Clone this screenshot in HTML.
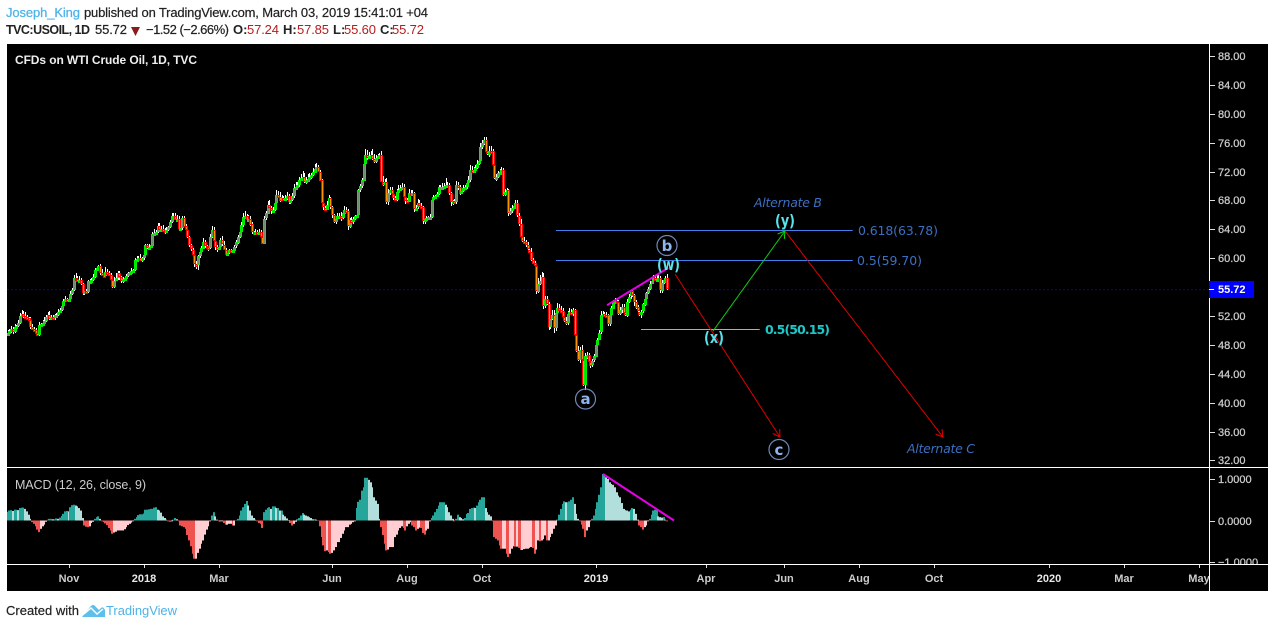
<!DOCTYPE html>
<html lang="en">
<head>
<meta charset="utf-8">
<title>USOIL chart</title>
<style>
html,body{margin:0;padding:0;background:#fff;width:1274px;height:628px;overflow:hidden}
svg{display:block;font-family:"Liberation Sans",sans-serif}
.d{font-family:"DejaVu Sans",sans-serif}
.h{stroke:#222;stroke-width:.2}
</style>
</head>
<body>
<svg id="root" width="1274" height="628" viewBox="0 0 1274 628" xmlns="http://www.w3.org/2000/svg">
<defs>
<clipPath id="plotClip"><rect x="7" y="44" width="1202" height="423"/></clipPath>
<clipPath id="macdClip"><rect x="7" y="468" width="1202" height="96"/></clipPath>
<clipPath id="macdAxisClip"><rect x="1210" y="468" width="58" height="96"/></clipPath>
<clipPath id="timeClip"><rect x="7" y="565" width="1202" height="26"/></clipPath>
</defs>

<text x="6" y="17" font-size="13" fill="#4fb3e8" stroke="#4fb3e8" stroke-width=".25" textLength="74">Joseph_King</text>
<text class="h" x="84" y="17" font-size="13" fill="#222" textLength="344">published on TradingView.com, March 03, 2019 15:41:01 +04</text>
<text x="6" y="34" font-size="12.5" font-weight="bold" fill="#222" textLength="84">TVC:USOIL, 1D</text>
<text class="h" x="95" y="34" font-size="13" fill="#222" textLength="32">55.72</text>
<polygon points="131,27 140,27 135.5,36" fill="#8b1a1a"/>
<text class="h" x="146" y="34" font-size="13" fill="#222" textLength="83">−1.52 (−2.66%)</text>
<text x="233" y="34" font-size="13" font-weight="bold" fill="#222">O:</text>
<text x="247" y="34" font-size="13" fill="#b71c1c" textLength="32">57.24</text>
<text x="283" y="34" font-size="13" font-weight="bold" fill="#222">H:</text>
<text x="297" y="34" font-size="13" fill="#b71c1c" textLength="32">57.85</text>
<text x="333" y="34" font-size="13" font-weight="bold" fill="#222">L:</text>
<text x="344" y="34" font-size="13" fill="#b71c1c" textLength="32">55.60</text>
<text x="380" y="34" font-size="13" font-weight="bold" fill="#222">C:</text>
<text x="392" y="34" font-size="13" fill="#b71c1c" textLength="32">55.72</text>

<rect x="7" y="44" width="1261" height="547" fill="#000"/>
<g id="plot" clip-path="url(#plotClip)"></g>
<g id="drawings"></g>
<g id="macd" clip-path="url(#macdClip)"></g>
<g id="macdDrawings"></g>

<rect x="7" y="467" width="1261" height="1" fill="#fff"/>
<rect x="7" y="564" width="1261" height="1" fill="#fff"/>
<rect x="1209" y="44" width="1" height="547" fill="#fff"/>
<g id="priceAxis"></g>
<g id="macdAxis" clip-path="url(#macdAxisClip)"></g>
<g id="timeAxis" clip-path="url(#timeClip)"></g>

<text x="15" y="64" font-size="12" font-weight="bold" fill="#eee" textLength="182">CFDs on WTI Crude Oil, 1D, TVC</text>
<text x="15" y="489" font-size="12.5" fill="#ccc" textLength="131">MACD (12, 26, close, 9)</text>

<rect x="1209" y="281" width="45" height="17" fill="#0000ff"/>
<rect x="1209" y="289" width="5" height="1" fill="#fff"/>
<text x="1218" y="293" font-size="11" font-weight="bold" fill="#fff">55.72</text>

<text class="d" x="858" y="235" font-size="12.5" fill="#3d6fc0" textLength="80">0.618(63.78)</text>
<text class="d" x="857" y="265" font-size="12.5" fill="#3d6fc0" textLength="65">0.5(59.70)</text>
<text class="d" x="765" y="334" font-size="12.5" font-weight="bold" fill="#1fc8c8" textLength="65">0.5(50.15)</text>
<text class="d" x="754" y="207" font-size="12.5" font-style="italic" fill="#3d6fc0" textLength="68">Alternate B</text>
<text class="d" x="907" y="453" font-size="12.5" font-style="italic" fill="#3d6fc0" textLength="68">Alternate C</text>

<circle cx="667" cy="245.5" r="10" fill="none" stroke="#6f88b8" stroke-width="1.2"/>
<text class="d" x="667" y="251" font-size="15" font-weight="bold" fill="#8fb4ee" text-anchor="middle">b</text>
<circle cx="585.5" cy="399" r="10" fill="none" stroke="#6f88b8" stroke-width="1.2"/>
<text class="d" x="585.5" y="404" font-size="15" font-weight="bold" fill="#8fb4ee" text-anchor="middle">a</text>
<circle cx="779" cy="449.5" r="10" fill="none" stroke="#6f88b8" stroke-width="1.2"/>
<text class="d" x="779" y="455" font-size="15" font-weight="bold" fill="#8fb4ee" text-anchor="middle">c</text>
<text class="d" x="657" y="270" font-size="16" font-weight="bold" fill="#58e4ea" textLength="23" lengthAdjust="spacingAndGlyphs">(w)</text>
<text class="d" x="704" y="343" font-size="16" font-weight="bold" fill="#58e4ea" textLength="20" lengthAdjust="spacingAndGlyphs">(x)</text>
<text class="d" x="775" y="226" font-size="16" font-weight="bold" fill="#58e4ea" textLength="20" lengthAdjust="spacingAndGlyphs">(y)</text>

<text class="h" x="6" y="615" font-size="13" fill="#222" textLength="73">Created with</text>
<path d="M82 617 L90 607 Q93 603 96 607 L99 610 L101 608 Q103 606 105 610 L105 617 Z M86 617" fill="#5cc0ea"/>
<path d="M84 614 L91 608 L97 614 L103 609" fill="none" stroke="#fff" stroke-width="1.4"/>
<text x="106" y="615" font-size="13" fill="#4fb3e8" textLength="71">TradingView</text>
</svg>
<script>
const closes = [49.6,49.9,50.2,49.8,50.5,50.6,51.0,52.0,52.3,52.0,51.9,51.7,51.5,50.5,50.2,50.1,49.6,49.4,50.8,50.9,
51.0,51.3,51.9,52.2,51.6,51.9,51.7,52.1,52.2,52.6,52.8,53.4,54.1,54.3,54.2,54.4,55.1,55.6,57.2,57.1,
56.9,57.0,56.4,55.1,55.4,55.3,56.8,56.9,57.0,57.4,58.4,58.6,58.9,58.0,57.7,57.6,58.1,58.0,57.7,57.0,
56.1,56.9,57.2,57.9,57.4,56.8,57.1,57.2,57.6,57.9,58.1,58.3,58.4,59.8,59.9,60.0,59.7,60.0,60.4,61.8,
61.5,61.6,61.8,63.4,63.5,63.6,64.4,63.9,64.1,63.9,63.6,63.9,64.3,65.0,65.8,65.9,65.3,65.5,64.1,64.2,
65.6,64.4,63.9,62.9,61.8,61.2,60.5,59.2,59.0,60.3,60.9,61.4,62.3,61.7,61.6,61.4,62.9,63.9,62.4,61.6,
61.3,61.5,62.5,61.9,61.2,60.5,60.7,61.1,60.9,61.1,61.6,62.2,63.0,63.7,64.6,65.7,65.8,65.3,65.5,64.7,
63.6,63.5,63.7,63.6,63.7,63.0,62.1,65.5,66.2,67.4,67.0,66.6,66.7,67.7,68.8,68.5,68.0,68.3,68.1,68.3,
68.6,67.8,68.0,68.6,69.7,69.9,70.1,70.8,71.1,71.3,70.6,70.9,71.0,71.3,71.5,71.9,72.4,72.7,72.0,70.8,
67.6,67.0,66.7,67.4,68.3,67.1,66.0,65.1,65.4,65.8,65.9,65.5,66.2,66.7,66.5,64.4,65.3,65.1,65.4,65.8,
66.0,69.4,70.0,70.8,73.1,74.3,73.9,74.2,74.3,73.8,73.4,73.9,74.1,74.3,70.6,70.5,70.6,67.8,69.0,69.4,
68.9,68.3,68.1,69.2,69.5,69.7,69.9,68.5,68.0,67.8,69.0,68.9,69.0,66.8,67.0,67.6,67.3,67.1,65.1,65.4,
65.6,65.7,65.7,68.1,68.5,68.6,68.9,69.8,69.8,69.9,70.0,70.1,70.1,69.0,67.8,67.9,67.7,70.1,69.9,69.0,
69.3,69.7,69.9,70.4,70.8,72.2,72.1,72.2,72.5,73.0,73.4,75.4,75.9,76.4,74.8,74.4,74.9,74.8,72.9,71.1,
71.3,71.8,72.0,72.2,68.8,69.2,69.4,66.2,66.5,66.9,67.3,67.6,65.9,64.8,63.0,62.4,62.2,61.8,61.2,60.9,
59.8,59.3,58.9,55.4,56.5,56.9,57.4,53.4,54.4,53.7,50.5,51.6,52.1,50.3,52.4,53.1,52.9,52.7,51.9,51.3,
51.0,52.3,52.6,52.2,52.8,49.4,47.2,45.9,47.3,45.9,42.5,46.5,46.6,45.7,45.2,45.8,46.4,48.0,48.7,49.7,
52.1,52.3,52.2,52.1,50.8,52.1,53.1,54.0,54.1,54.0,52.4,52.9,53.3,52.5,52.1,54.0,54.7,55.4,54.9,54.0,
53.2,52.6,52.5,52.6,53.6,54.4,55.2,55.8,56.5,56.9,57.2,57.0,57.1,57.2,55.5,56.6,57.0,57.24,55.72];

/* wick lengths, in units of wickUnit dollars */
const wickUnit = 0.6;
const upperWicks = [.8,.6,.7,.5,.6,.3,.8,.7,.9,.6,1.0,.4,.3,.7,.6,.5,.4,.3,.6,.3,
.7,.9,.5,.6,.8,.4,.5,.3,.4,.7,.6,.8,.5,.7,.4,1.0,.6,.5,.9,1.2,
.8,.9,.5,.3,.4,.6,.3,.4,.5,.7,.4,.3,.3,.6,.9,.5,1.1,.6,.4,.5,
.4,.8,1.2,.5,.6,.3,.6,.4,.3,.4,.3,.5,.3,.4,.7,.5,.9,.4,.6,.3,
.4,.6,.2,.3,1.0,.6,.8,.7,.5,.9,.4,.6,.3,.4,.8,.6,.5,.9,.6,.8,
.5,.3,.6,.3,.4,.2,.3,.4,.8,.3,.5,.4,.9,.4,.3,.2,.7,1.0,.6,.5,
.3,.8,.6,.9,.7,.3,.5,.2,.4,.3,.5,.6,.4,.6,.8,1.0,1.2,.5,.7,.6,
.5,.4,.6,.4,.5,.3,.3,.5,.6,.9,1.0,.5,.6,.9,1.0,.8,1.1,.7,.6,.8,
.9,.6,.8,.7,1.0,1.1,.8,.7,.9,1.2,.9,.6,1.0,.8,.5,.9,1.0,.7,.3,.3,
.3,.5,.4,.8,.7,.4,.3,.3,.5,.7,.6,.8,.7,.9,.6,.5,.4,.6,.5,.4,
.3,.4,.5,.6,1.0,1.3,1.1,.8,.9,1.3,1.0,.6,.5,.4,.9,1.3,.6,.8,1.0,.8,
.7,.6,.5,.7,1.0,.8,.9,.7,.5,.6,.9,.8,.7,.4,.6,1.0,.8,.5,.3,.4,
.3,.3,.6,.3,.4,.3,.4,.5,.6,.9,.7,1.6,.7,.5,.4,.3,.5,1.1,.8,.5,
.6,.7,.5,.6,1.0,1.2,.9,.8,.7,1.0,.6,.9,.8,.6,.7,.9,1.0,1.1,.6,.5,
.6,.5,.5,.8,.4,.6,.5,.3,.7,.9,.5,.7,.8,.7,1.0,.8,.9,.6,.7,1.0,
.8,.4,.5,.8,1.2,1.3,1.2,.9,.7,.6,.5,1.0,1.2,1.3,.8,1.2,.9,.7,.6,.8,
1.0,.7,.9,.6,.5,.3,.6,1.0,.8,1.2,.5,.7,.6,.5,.4,.4,.5,.6,.4,.5,
.9,.6,.4,.5,.3,.4,.5,.3,.7,.4,.4,.6,.5,.6,.3,.5,.6,.4,.5,.3,
.4,.5,.3,.4,.3,.4,.3,.4,.6,.5,.8,.6,.9,.7,.5,.7,.5,.6,1.0];

const lowerWicks = [.3,.5,.3,.4,.2,.3,.2,.2,.3,.4,.2,.3,.2,.5,.3,.2,.3,.1,.2,.3,
.2,.3,.2,.4,.2,.3,.2,.5,.2,.2,.3,.2,.2,.3,.4,.2,.3,.2,.2,.3,
.3,.2,.2,.3,.2,.2,.3,.4,.2,.3,.2,.3,.2,.4,.3,.5,.3,.4,.2,.5,
.4,.3,.2,.3,.6,.2,.3,.2,.2,.3,.2,.2,.3,.2,.3,.2,.3,.2,.3,.2,
.2,.3,.2,.2,.3,.2,.2,.3,.5,.3,.4,.2,.3,.2,.2,.3,.2,.4,.3,.2,
.3,.2,.3,.2,.2,.3,.2,.7,.8,.9,.3,.2,.2,.5,.3,.6,.2,.2,.3,.8,
.9,.3,.2,.3,.2,.2,.3,.2,.3,.2,.3,.2,.3,.2,.2,.3,.2,.3,.2,.3,
.4,.2,.3,.2,.3,.2,.1,.2,.3,.2,.3,.6,.2,.3,.2,.4,.3,.2,.3,.3,
.4,.3,.5,.2,.3,.2,.6,.4,.2,.3,.2,.5,.3,.4,.6,.2,.3,.2,.2,.3,
.2,.5,.3,.2,.3,.4,.6,.3,.7,.5,.4,.6,.2,.3,.2,.9,.4,.3,.5,.2,
.3,.2,.4,.3,.2,.3,.5,.4,.6,.3,.5,.4,.2,.3,.2,.8,.3,.5,.6,.3,
.4,.5,.2,.3,.4,.2,.3,.4,.8,.3,.2,.3,.4,.5,.3,.2,.4,.3,.6,.5,
.3,.2,.3,.2,.3,.4,.2,.3,.2,.3,.2,.3,.4,.5,.8,.7,.4,.3,.8,.4,
.3,.2,.3,.4,.2,.3,.2,.3,.2,.3,.2,.3,.5,.3,.4,.3,.6,.4,.5,.3,
.6,.3,.4,.2,.5,.3,.2,.5,.3,.2,.3,.4,.3,.4,.2,.3,.2,.3,.2,.2,
.3,.2,.3,.5,.4,.3,.2,.8,.4,.3,.6,.4,.3,1.0,.5,.3,.4,.4,.5,.3,
.4,.3,.5,.2,.3,.3,.4,.3,.5,.2,.3,1.2,.8,1.1,.6,.4,.3,.3,.2,.2,
.3,.4,.4,.3,.2,.3,.3,.2,.3,.4,.5,.3,.8,.4,.3,.4,.3,.4,.5,1.0,
.3,.5,.9,1.2,.4,.3,.2,.3,.2,.2,.3,.2,.4,.3,.6,.5,.3,.2,.2];

const macdHist = [.21,.24,.25,.23,.26,.26,.25,.30,.31,.31,.28,.22,.14,.04,-.04,-.08,-.14,-.22,-.28,-.20,
-.14,-.10,-.03,.02,.04,.04,.03,.03,.05,.04,.07,.11,.16,.22,.23,.22,.32,.37,.38,.36,
.34,.30,.24,.06,-.12,-.15,-.16,-.14,-.06,-.03,.04,.08,.10,.04,-.02,-.04,-.07,-.11,-.18,-.24,
-.32,-.29,-.27,-.24,-.24,-.24,-.24,-.21,-.16,-.11,-.08,-.05,-.02,.04,.08,.13,.15,.15,.17,.26,
.26,.27,.28,.28,.31,.32,.26,.24,.19,.10,.06,.02,-.02,-.03,-.02,.02,.06,.03,-.02,-.12,
-.14,-.16,-.20,-.35,-.48,-.62,-.80,-.92,-.92,-.78,-.68,-.56,-.48,-.34,-.22,-.14,-.02,.12,.20,.10,
.02,-.02,-.02,-.02,-.06,-.10,-.10,-.08,-.08,-.12,-.12,.01,.04,.12,.24,.32,.40,.47,.36,.24,
.12,.06,.02,-.02,-.06,-.08,-.18,.20,.26,.30,.32,.28,.34,.34,.30,.30,.24,.24,.14,.10,
.05,.01,-.06,-.12,-.08,-.03,.03,.06,.12,.18,.14,.12,.10,.08,.06,.03,.03,.02,-.01,-.14,
-.40,-.60,-.74,-.72,-.76,-.80,-.78,-.72,-.64,-.52,-.52,-.42,-.32,-.24,-.16,-.16,-.10,-.08,-.04,-.02,
.30,.45,.50,.72,.80,1.03,1.03,.98,.92,.80,.56,.48,.40,.04,-.16,-.35,-.56,-.72,-.70,-.64,
-.64,-.64,-.40,-.34,-.24,-.18,-.14,-.18,-.24,-.14,-.08,-.04,-.12,-.16,-.24,-.20,-.17,-.18,-.30,-.34,
-.24,-.20,-.02,.06,.12,.20,.28,.36,.44,.44,.44,.38,.32,.20,.12,.04,-.02,.04,.14,.08,
.06,.03,.06,.16,.18,.28,.30,.31,.30,.36,.44,.50,.56,.56,.30,.20,.14,.10,-.02,-.40,
-.44,-.48,-.60,-.68,-.68,-.68,-.80,-.88,-.80,-.68,-.62,-.63,-.63,-.66,-.71,-.71,-.69,-.68,-.68,-.66,
-.64,-.66,-.80,-.70,-.48,-.50,-.48,-.45,-.36,-.48,-.48,-.40,-.32,-.20,-.12,.02,.14,.28,.40,.46,
.44,.44,.46,.50,.56,.40,.16,.04,-.02,-.10,-.20,-.40,-.24,-.16,-.02,.04,.12,.28,.44,.62,
.80,1.12,1.12,1.04,1.00,.92,.88,.86,.80,.68,.60,.56,.42,.28,.25,.24,.22,.26,.30,.28,
.16,.02,-.12,-.16,-.22,-.16,-.12,-.02,.04,.14,.24,.26,.26,.10,.08,.07,.08,.02,-.02];

const priceTicks = [88,84,80,76,72,68,64,60,52,48,44,40,36,32];
const macdTicks = [1,0,-1];
const timeLabels = ["Nov","2018","Mar","Jun","Aug","Oct","2019","Apr","Jun","Aug","Oct","2020","Mar","May"];
const timeBars = [35,78,121,186,229,272,337,400,445,488,531,597,640,683];
const boldTimeLabels = ["2018","2019","2020"];
const lastClose = 55.72;
const fibLevels = [63.78,59.70];
const fibXLevel = 50.15;

const NS = "http://www.w3.org/2000/svg";
function xAt(i){ return 7.6 + 1.745 * i; }
function yAt(p){ return 56 + (88 - p) * 7.223; }
function yMacd(v){ return 520.5 - v * 41.5; }
function make(tag, attrs){
  const el = document.createElementNS(NS, tag);
  for (const k in attrs) el.setAttribute(k, attrs[k]);
  return el;
}
const plot = document.getElementById("plot");
const drawings = document.getElementById("drawings");
const macd = document.getElementById("macd");
const macdDrawings = document.getElementById("macdDrawings");
const priceAxis = document.getElementById("priceAxis");
const macdAxis = document.getElementById("macdAxis");
const timeAxis = document.getElementById("timeAxis");

const lastLine = make("line", {x1:7, x2:1209, y1:yAt(lastClose)+0.5, y2:yAt(lastClose)+0.5, stroke:"#0000c8", "stroke-width":1, "stroke-dasharray":"2 2"});


plot.appendChild(lastLine);

closes.forEach(function(c, i){
  const o = i ? closes[i-1] : c;
  const top = Math.max(o, c), bot = Math.min(o, c);
  const hi = top + upperWicks[i] * wickUnit, lo = bot - lowerWicks[i] * wickUnit;
  const x = Math.round(xAt(i));
  const wick = make("rect", {x:x, y:Math.round(yAt(hi)), width:1, height:Math.max(1, Math.round(yAt(lo)-yAt(hi))), fill:"#fff"});
  
  
  plot.appendChild(wick);
});
closes.forEach(function(c, i){
  const o = i ? closes[i-1] : c;
  const up = c >= o;
  const top = Math.max(o, c), bot = Math.min(o, c);
  const x = Math.round(xAt(i));
  const yT = Math.round(yAt(top));
  const h = Math.max(3, Math.round(yAt(bot)-yAt(top)));
  const body = make("rect", {x:x-1, y:yT, width:3, height:h, fill: up ? "#00f000" : "#ff0000"});
  
  
  plot.appendChild(body);
  if (h > 2) {
    const core = make("rect", {x:x, y:yT+1, width:1, height:h-2, fill: up ? "#6c8c6c" : "#ff9000"});
    
    
    plot.appendChild(core);
  }
});

macdHist.forEach(function(v, i){
  const prev = i ? macdHist[i-1] : 0;
  const color = v >= 0 ? (v >= prev ? "#26a69a" : "#b2dfdb") : (v < prev ? "#ef5350" : "#ffcdd2");
  const yTop = Math.min(yMacd(v), yMacd(0));
  const bar = make("rect", {x:Math.round(xAt(i))-1, y:yTop, width:2, height:Math.abs(yMacd(v)-yMacd(0)), fill:color});
  
  
  macd.appendChild(bar);
});

priceTicks.forEach(function(p){
  const y = Math.round(yAt(p));
  const t = make("rect", {x:1210, y:y, width:5, height:1, fill:"#ddd"});
  
  
  priceAxis.appendChild(t);
  const l = make("text", {x:1218, y:y+4, "font-size":11, fill:"#ccc", stroke:"#ccc", "stroke-width":0.25});
  
  
  l.textContent = p.toFixed(2);
  priceAxis.appendChild(l);
});

macdTicks.forEach(function(v){
  const y = Math.round(yMacd(v));
  const t = make("rect", {x:1210, y:y, width:5, height:1, fill:"#ddd"});
  
  
  macdAxis.appendChild(t);
  const l = make("text", {x:1218, y:y+4, "font-size":11, fill:"#ccc", stroke:"#ccc", "stroke-width":0.25});
  
  
  l.textContent = (v < 0 ? "−" : "") + Math.abs(v).toFixed(4);
  macdAxis.appendChild(l);
});

timeLabels.forEach(function(lab, k){
  const x = Math.round(xAt(timeBars[k]));
  const t = make("rect", {x:x, y:565, width:1, height:3, fill:"#ddd"});
  
  
  timeAxis.appendChild(t);
  const l = make("text", {x:x, y:582, "font-size":11, "font-weight":"bold", "text-anchor":"middle", fill: boldTimeLabels.indexOf(lab) >= 0 ? "#e8e8e8" : "#ccc"});
  
  
  l.textContent = lab;
  timeAxis.appendChild(l);
});

function seg(parent, i1, v1, i2, v2, yFn, color, w, name){
  const ln = make("line", {x1:xAt(i1), y1:yFn(v1), x2:xAt(i2), y2:yFn(v2), stroke:color, "stroke-width":w});
  
  
  parent.appendChild(ln);
  return ln;
}
function level(parent, i1, i2, v, color, name){
  const y = Math.floor(yAt(v)) + 0.5;
  const ln = make("line", {x1:xAt(i1), y1:y, x2:xAt(i2), y2:y, stroke:color, "stroke-width":1});
  
  
  parent.appendChild(ln);
}
function arrowHead(parent, i1, v1, i2, v2, color, name){
  const x2 = xAt(i2), y2 = yAt(v2);
  const a = Math.atan2(y2 - yAt(v1), x2 - xAt(i1));
  const pts = [a + 2.6, a - 2.6].map(function(t){ return (x2 + 8*Math.cos(t)).toFixed(1) + "," + (y2 + 8*Math.sin(t)).toFixed(1); });
  const p = make("polyline", {points: pts[0] + " " + x2.toFixed(1) + "," + y2.toFixed(1) + " " + pts[1], fill:"none", stroke:color, "stroke-width":1});
  
  
  parent.appendChild(p);
}

fibLevels.forEach(function(lv){
  level(drawings, 314.3, 484.3, lv, "#3f80ea", "fib-level-line");
});
level(drawings, 363, 431, fibXLevel, "#35e0e8", "fib-x-line");
seg(drawings, 382.5, 57.8, 442.6, 35.25, yAt, "#e00000", 1, "wave-arrow-b-c");
arrowHead(drawings, 382.5, 57.8, 442.6, 35.25, "#e00000", "arrow-head-c");
seg(drawings, 404.2, 49.9, 445.5, 63.78, yAt, "#10c810", 1, "wave-arrow-x-y");
arrowHead(drawings, 404.2, 49.9, 445.5, 63.78, "#10e010", "arrow-head-y");
seg(drawings, 445.5, 63.78, 536, 35.25, yAt, "#e00000", 1, "wave-arrow-y-alt-c");
arrowHead(drawings, 445.5, 63.78, 536, 35.25, "#e00000", "arrow-head-alt-c");
seg(drawings, 343.5, 53.5, 378.5, 58.65, yAt, "#e600e6", 2, "price-trendline");
seg(macdDrawings, 341.2, 1.12, 381.9, 0, yMacd, "#e600e6", 2, "macd-trendline");
</script>
</body>
</html>
